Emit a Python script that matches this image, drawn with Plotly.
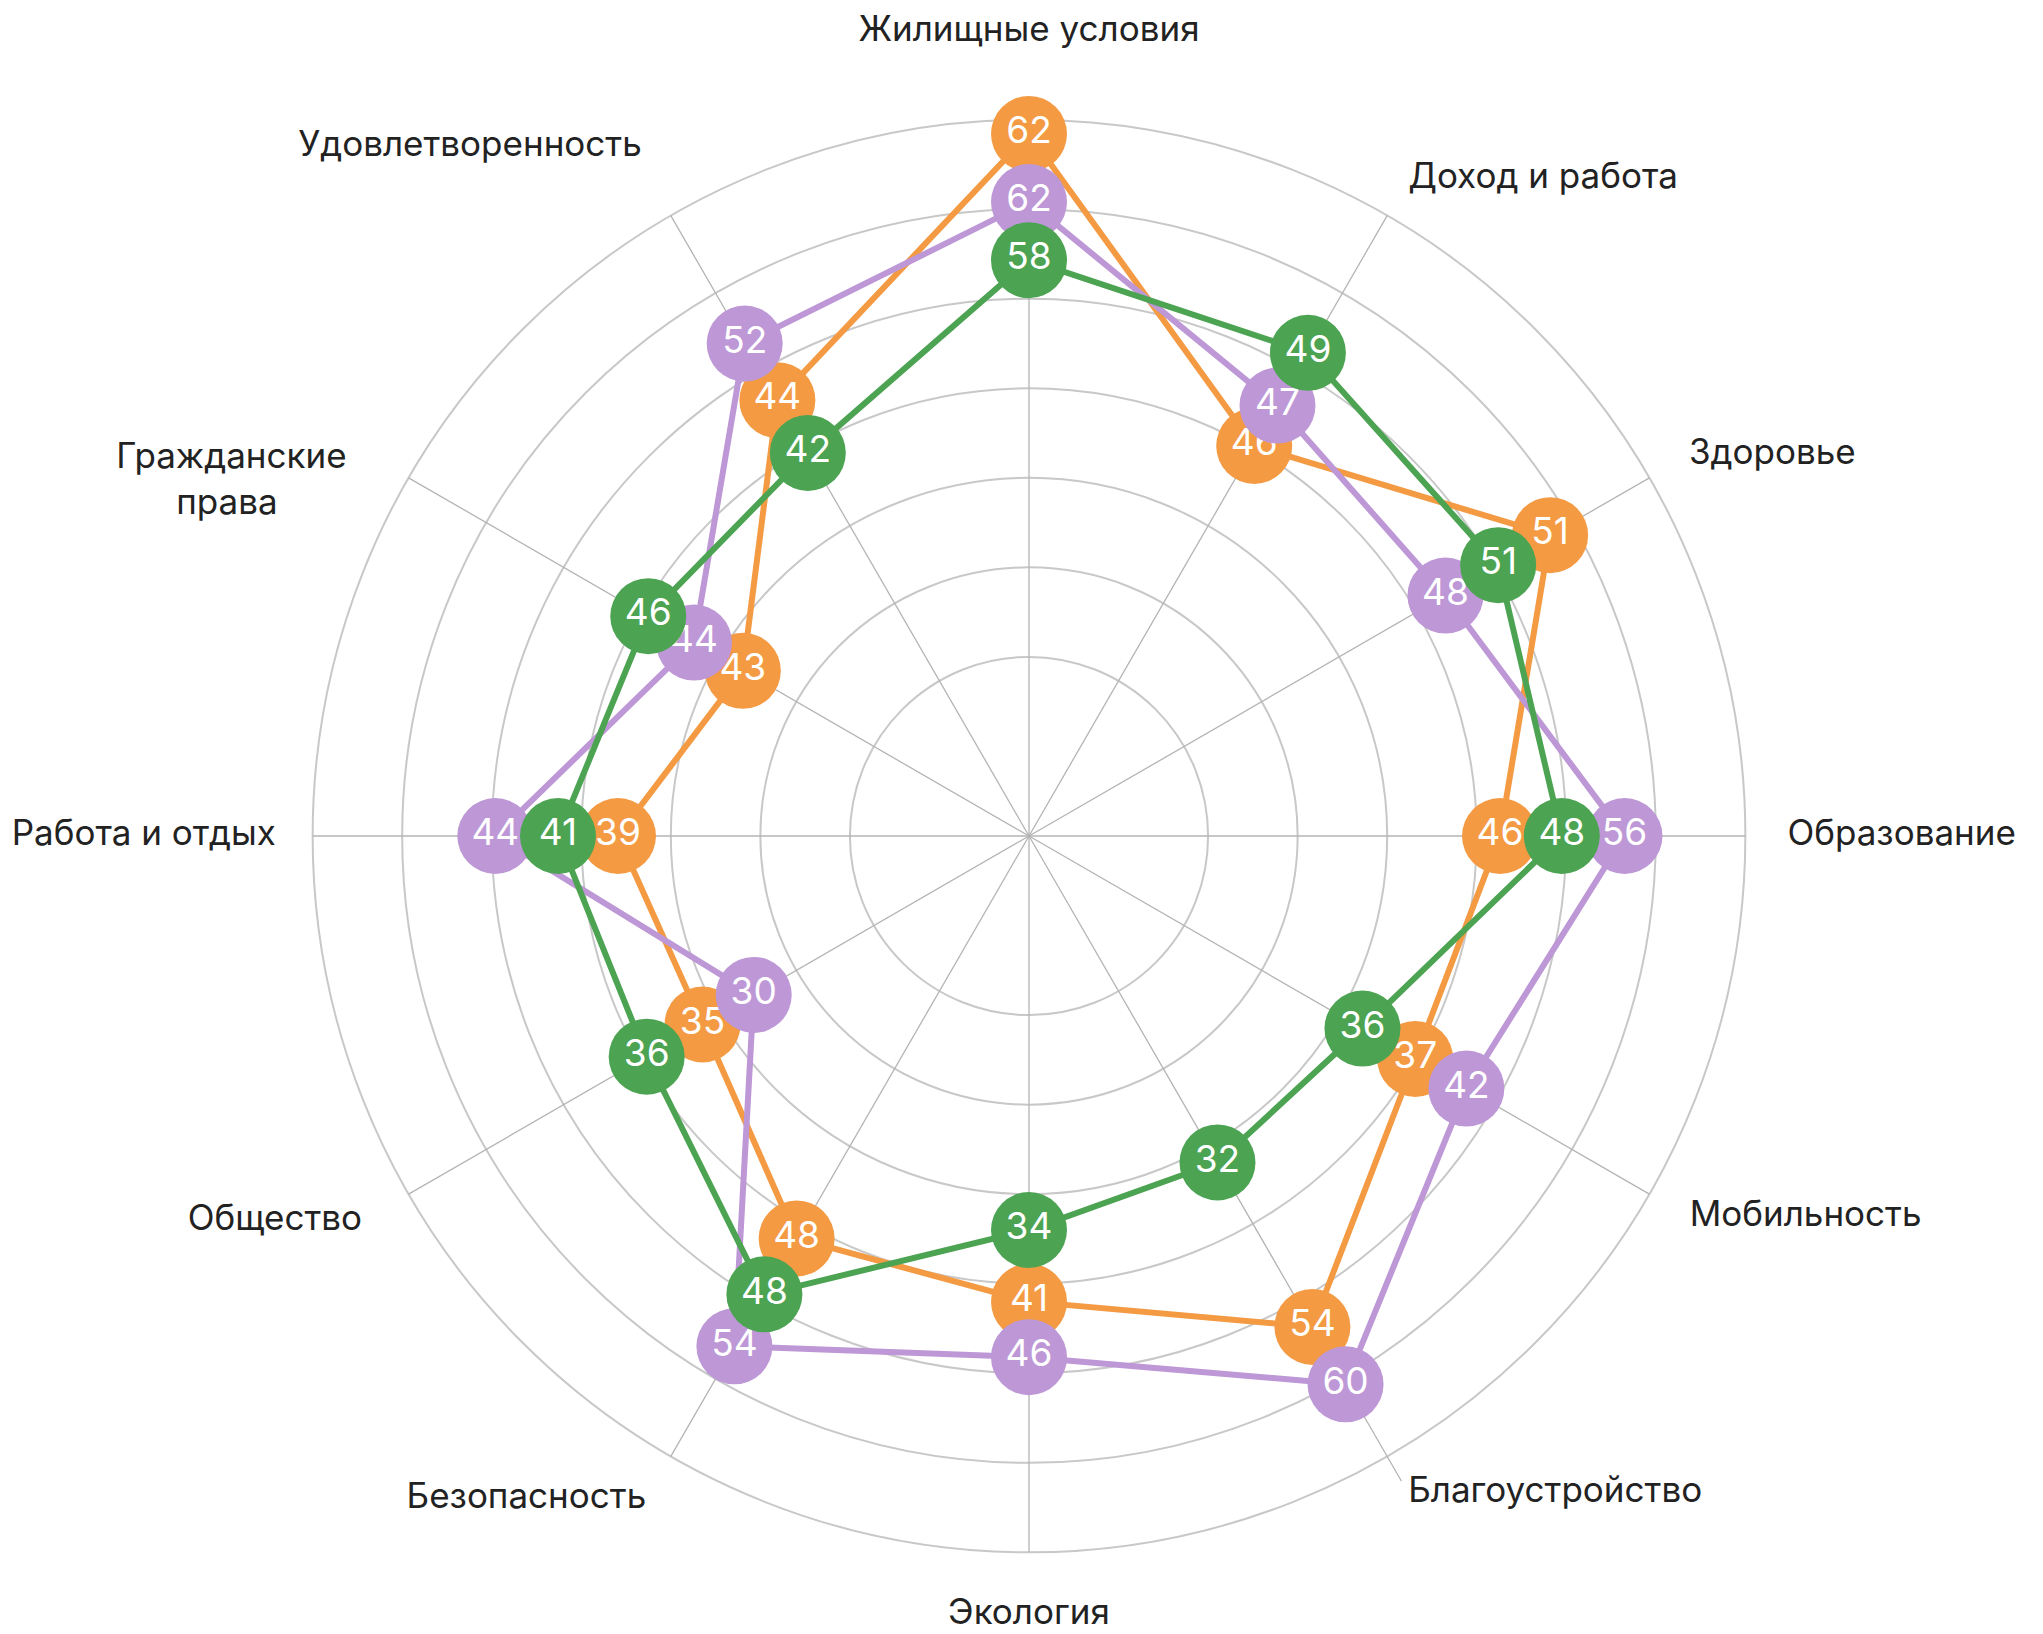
import plotly.graph_objects as go

categories = ["Жилищные условия", "Доход и работа", "Здоровье", "Образование",
              "Мобильность", "Благоустройство", "Экология", "Безопасность",
              "Общество", "Работа и отдых", "Гражданские<br>права", "Удовлетворенность"]

# radial positions (in ring units, outer ring = 8) and displayed values
orange_r = [7.84, 5.03, 6.72, 5.26, 4.98, 6.33, 5.20, 5.19, 4.21, 4.59, 3.69, 5.62]
orange_v = [62, 46, 51, 46, 37, 54, 41, 48, 35, 39, 43, 44]

purple_r = [7.08, 5.55, 5.37, 6.65, 5.64, 7.07, 5.82, 6.58, 3.55, 5.96, 4.32, 6.35]
purple_v = [62, 47, 48, 56, 42, 60, 46, 54, 30, 44, 44, 52]

green_r = [6.43, 6.23, 6.05, 5.95, 4.30, 4.21, 4.40, 5.91, 4.93, 5.26, 4.91, 4.94]
green_v = [58, 49, 51, 48, 36, 32, 34, 48, 36, 41, 46, 42]

ring_ticks = [2, 3, 4, 5, 6, 7, 8]
OUTER = 8          # outer ring
R_MAX = 8.8        # axis range (room for labels)

# label placement (layout only): distance from centre and anchor side
label_r = [8.78, 8.47, 8.51, 8.47, 8.52, 8.47, 8.70, 8.55, 8.60, 8.41, 8.80, 8.65]
label_pos = ["top center", "middle right", "middle right", "middle right",
             "middle right", "middle right", "middle center", "middle left",
             "middle left", "middle left", "bottom left", "top left"]
# displayed label text (second line of the two-line label is centred under the first)
label_text = [c.replace("<br>права", "<br>права" + "\u00a0" * 7) for c in categories]
# spoke length per category (Благоустройство has a leader line to its label)
spoke_len = [OUTER] * len(categories)
spoke_len[5] = 8.32

series = [
    ("orange", orange_r, orange_v, "#F39A43"),
    ("purple", purple_r, purple_v, "#BD97D6"),
    ("green", green_r, green_v, "#4CA352"),
]

fig = go.Figure()

# spokes
sr, st = [], []
for c, L in zip(categories, spoke_len):
    sr += [0, L, None]
    st += [c, c, None]
fig.add_trace(go.Scatterpolar(
    r=sr, theta=st, mode="lines", connectgaps=False,
    line=dict(color="#b4b4b4", width=1.3), cliponaxis=False,
    hoverinfo="skip", showlegend=False))

# lines first
for name, r, v, color in series:
    fig.add_trace(go.Scatterpolar(
        r=r + [r[0]], theta=categories + [categories[0]],
        mode="lines", line=dict(color=color, width=6),
        hoverinfo="skip", showlegend=False))

# markers with value labels on top
for name, r, v, color in series:
    fig.add_trace(go.Scatterpolar(
        r=r, theta=categories, mode="markers+text",
        marker=dict(size=76, color=color, line=dict(width=0)),
        text=[str(x) for x in v], textposition="middle center",
        textfont=dict(color="white", size=37, family="Inter"),
        name=name, showlegend=False))

# category labels
fig.add_trace(go.Scatterpolar(
    r=label_r, theta=categories, mode="text", text=label_text,
    textposition=label_pos, cliponaxis=False,
    textfont=dict(size=35, family="Inter", color="#222222"),
    hoverinfo="skip", showlegend=False))

S = 2 * R_MAX * 716 / OUTER
cx, cy = 1021, 828
fig.update_layout(
    width=2043, height=1634,
    margin=dict(l=round(cx - S / 2), r=round(2043 - cx - S / 2),
                t=round(cy - S / 2), b=round(1634 - cy - S / 2)),
    paper_bgcolor="white", plot_bgcolor="white",
    font=dict(family="Inter", color="#222222"),
    polar=dict(
        bgcolor="white",
        radialaxis=dict(range=[0, R_MAX], tickvals=ring_ticks, showticklabels=False,
                        showline=False, ticks="", gridcolor="#c8c8c8", gridwidth=1.5),
        angularaxis=dict(rotation=90, direction="clockwise", type="category",
                         categoryorder="array", categoryarray=categories,
                         showline=False, showgrid=False,
                         showticklabels=False, ticks=""),
    ),
)

fig.write_html("out.html")
